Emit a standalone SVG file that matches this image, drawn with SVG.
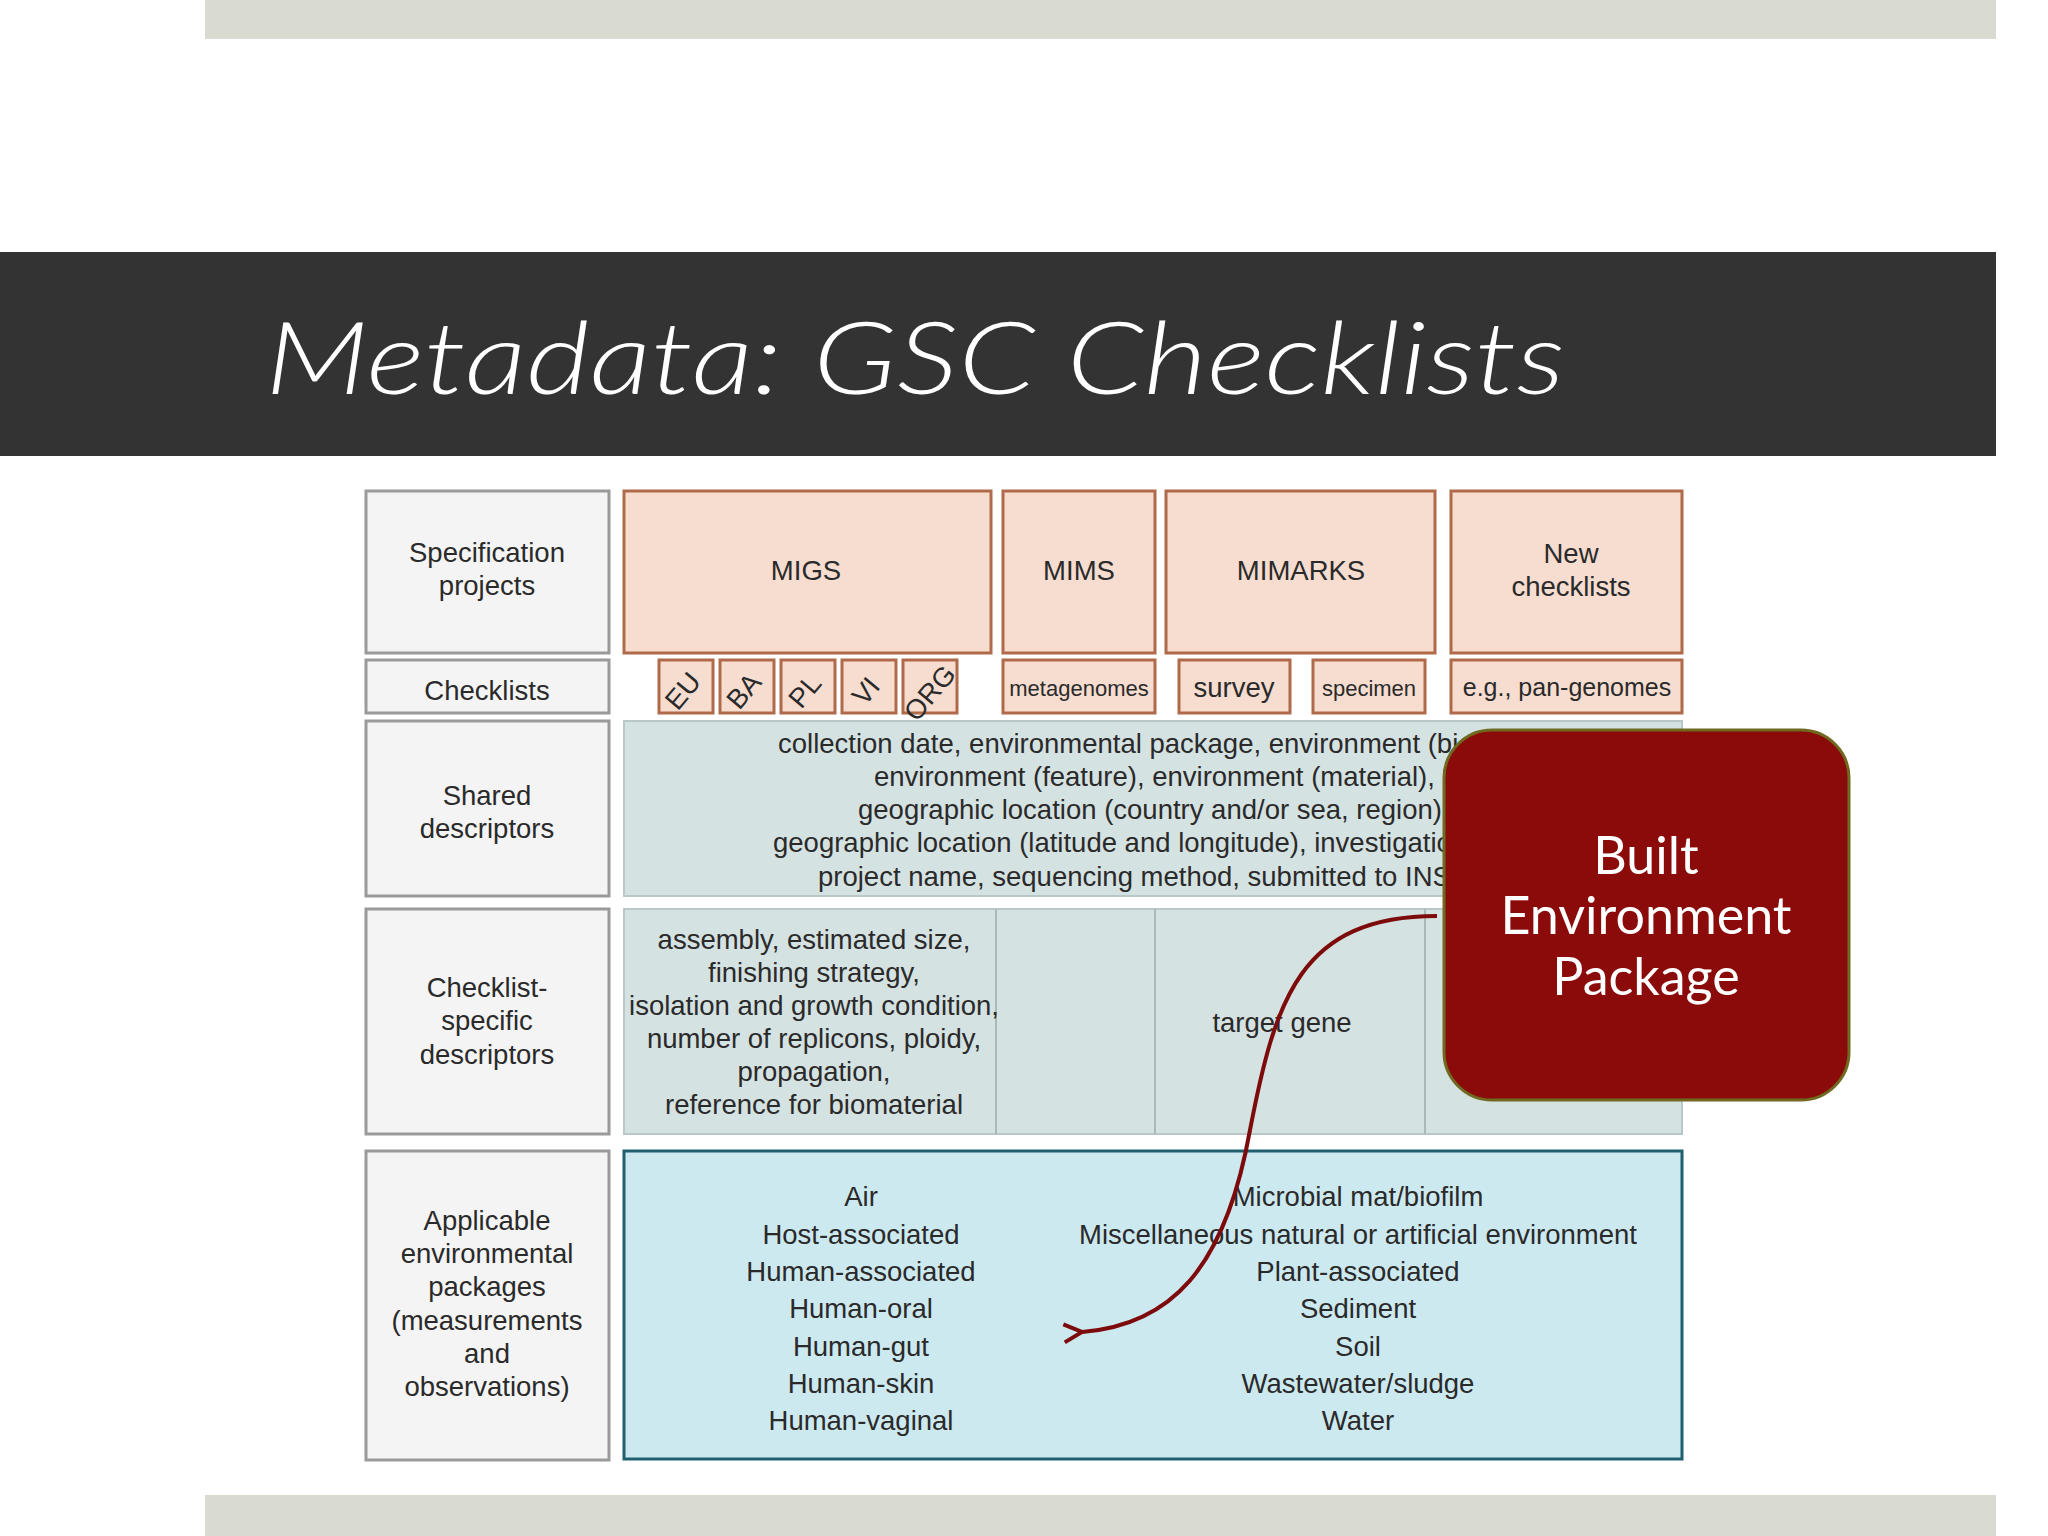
<svg xmlns="http://www.w3.org/2000/svg" width="2048" height="1536" viewBox="0 0 2048 1536">
<defs>
<style>
.t{font-family:"Liberation Sans",Arial,sans-serif;font-size:27.5px;fill:#2a2a2a;text-anchor:middle}
.l{text-anchor:start}
.lab{fill:#f4f4f4;stroke:#9a9a9a;stroke-width:3}
.sp{fill:#f6ddd0;stroke:#b06a4a;stroke-width:3}
.sh{fill:#d5e2e2;stroke:#b8c8c8;stroke-width:2}
.b{font-family:Lato,'Open Sans',sans-serif;font-size:52px;fill:#fff;text-anchor:middle}
</style>
<marker id="ah" markerWidth="24" markerHeight="24" refX="2" refY="12" orient="auto" markerUnits="userSpaceOnUse">
<path d="M20 3 L2 12 L20 21" fill="none" stroke="#7d0b0b" stroke-width="4"/>
</marker>
</defs>
<rect width="2048" height="1536" fill="#fff"/>
<rect x="205" y="0" width="1791" height="39" fill="#d9dbd0"/>
<rect x="205" y="1495" width="1791" height="41" fill="#d9dbd0"/>
<rect x="0" y="252" width="1996" height="204" fill="#333"/>
<text x="265" y="394" textLength="1300" lengthAdjust="spacingAndGlyphs" style="font-family:Lato,'Open Sans',sans-serif;font-style:italic;font-weight:300;font-size:100px;fill:#fff">Metadata: GSC Checklists</text>

<g id="labels">
<rect class="lab" x="366" y="491" width="243" height="162"/>
<text class="t" x="487" y="562">Specification</text><text class="t" x="487" y="595">projects</text>
<rect class="lab" x="366" y="660" width="243" height="53"/>
<text class="t" x="487" y="700">Checklists</text>
<rect class="lab" x="366" y="721" width="243" height="175"/>
<text class="t" x="487" y="805">Shared</text><text class="t" x="487" y="838">descriptors</text>
<rect class="lab" x="366" y="909" width="243" height="225"/>
<text class="t" x="487" y="997">Checklist-</text><text class="t" x="487" y="1030">specific</text><text class="t" x="487" y="1064">descriptors</text>
<rect class="lab" x="366" y="1151" width="243" height="309"/>
<text class="t" x="487" y="1230">Applicable</text><text class="t" x="487" y="1263">environmental</text><text class="t" x="487" y="1296">packages</text><text class="t" x="487" y="1330">(measurements</text><text class="t" x="487" y="1363">and</text><text class="t" x="487" y="1396">observations)</text>
</g>

<g id="specs">
<rect class="sp" x="624" y="491" width="367" height="162"/><text class="t" x="806" y="580">MIGS</text>
<rect class="sp" x="1003" y="491" width="152" height="162"/><text class="t" x="1079" y="580">MIMS</text>
<rect class="sp" x="1166" y="491" width="269" height="162"/><text class="t" x="1301" y="580">MIMARKS</text>
<rect class="sp" x="1451" y="491" width="231" height="162"/><text class="t" x="1571" y="563">New</text><text class="t" x="1571" y="596">checklists</text>
</g>

<g id="checklists">
<rect class="sp" x="659" y="660" width="54" height="53"/><text class="t" transform="translate(690 697) rotate(-50)" x="0" y="0">EU</text>
<rect class="sp" x="720" y="660" width="54" height="53"/><text class="t" transform="translate(751 697) rotate(-50)" x="0" y="0">BA</text>
<rect class="sp" x="781" y="660" width="54" height="53"/><text class="t" transform="translate(812 697) rotate(-50)" x="0" y="0">PL</text>
<rect class="sp" x="842" y="660" width="54" height="53"/><text class="t" transform="translate(873 697) rotate(-50)" x="0" y="0">VI</text>
<rect class="sp" x="903" y="660" width="54" height="53"/><text class="t" transform="translate(937 699) rotate(-50)" x="0" y="0">ORG</text>
<rect class="sp" x="1003" y="660" width="152" height="53"/><text class="t" x="1079" y="696" style="font-size:22px">metagenomes</text>
<rect class="sp" x="1179" y="660" width="111" height="53"/><text class="t" x="1234" y="697">survey</text>
<rect class="sp" x="1313" y="660" width="112" height="53"/><text class="t" x="1369" y="696" style="font-size:22px">specimen</text>
<rect class="sp" x="1451" y="660" width="231" height="53"/><text class="t" x="1567" y="696" style="font-size:25px">e.g., pan-genomes</text>
</g>

<g id="shared">
<rect class="sh" x="624" y="721" width="1058" height="175"/>
<text class="t l" x="778" y="753">collection date, environmental package, environment (biome),</text>
<text class="t l" x="874" y="786">environment (feature), environment (material),</text>
<text class="t l" x="858" y="819">geographic location (country and/or sea, region),</text>
<text class="t l" x="773" y="852">geographic location (latitude and longitude), investigation type,</text>
<text class="t l" x="818" y="886">project name, sequencing method, submitted to INSDC</text>
</g>

<g id="specific">
<rect class="sh" x="624" y="909" width="1058" height="225"/>
<line x1="996" y1="909" x2="996" y2="1134" stroke="#a9b9b9" stroke-width="2"/>
<line x1="1155" y1="909" x2="1155" y2="1134" stroke="#a9b9b9" stroke-width="2"/>
<line x1="1425" y1="909" x2="1425" y2="1134" stroke="#a9b9b9" stroke-width="2"/>
<text class="t" x="814" y="949">assembly, estimated size,</text>
<text class="t" x="814" y="982">finishing strategy,</text>
<text class="t" x="814" y="1015">isolation and growth condition,</text>
<text class="t" x="814" y="1048">number of replicons, ploidy,</text>
<text class="t" x="814" y="1081">propagation,</text>
<text class="t" x="814" y="1114">reference for biomaterial</text>
<text class="t" x="1282" y="1032">target gene</text>
</g>

<g id="env">
<rect x="624" y="1151" width="1058" height="308" fill="#cde9f0" stroke="#1f6070" stroke-width="3"/>
<text class="t" x="861" y="1206">Air</text>
<text class="t" x="861" y="1244">Host-associated</text>
<text class="t" x="861" y="1281">Human-associated</text>
<text class="t" x="861" y="1318">Human-oral</text>
<text class="t" x="861" y="1356">Human-gut</text>
<text class="t" x="861" y="1393">Human-skin</text>
<text class="t" x="861" y="1430">Human-vaginal</text>
<text class="t" x="1358" y="1206">Microbial mat/biofilm</text>
<text class="t" x="1358" y="1244">Miscellaneous natural or artificial environment</text>
<text class="t" x="1358" y="1281">Plant-associated</text>
<text class="t" x="1358" y="1318">Sediment</text>
<text class="t" x="1358" y="1356">Soil</text>
<text class="t" x="1358" y="1393">Wastewater/sludge</text>
<text class="t" x="1358" y="1430">Water</text>
</g>

<g id="built">
<rect x="1444" y="730" width="405" height="370" rx="48" fill="#8b0a0a" stroke="#6f6a20" stroke-width="3"/>
<text class="b" x="1646" y="874">Built</text>
<text class="b" x="1646" y="934">Environment</text>
<text class="b" x="1646" y="995">Package</text>
</g>

<g id="connectors">
<path d="M1437 916 C1300 916 1275 1000 1250 1130 C1225 1270 1170 1325 1082 1332" fill="none" stroke="#7d0b0b" stroke-width="4" marker-end="url(#ah)"/>
</g>
</svg>
